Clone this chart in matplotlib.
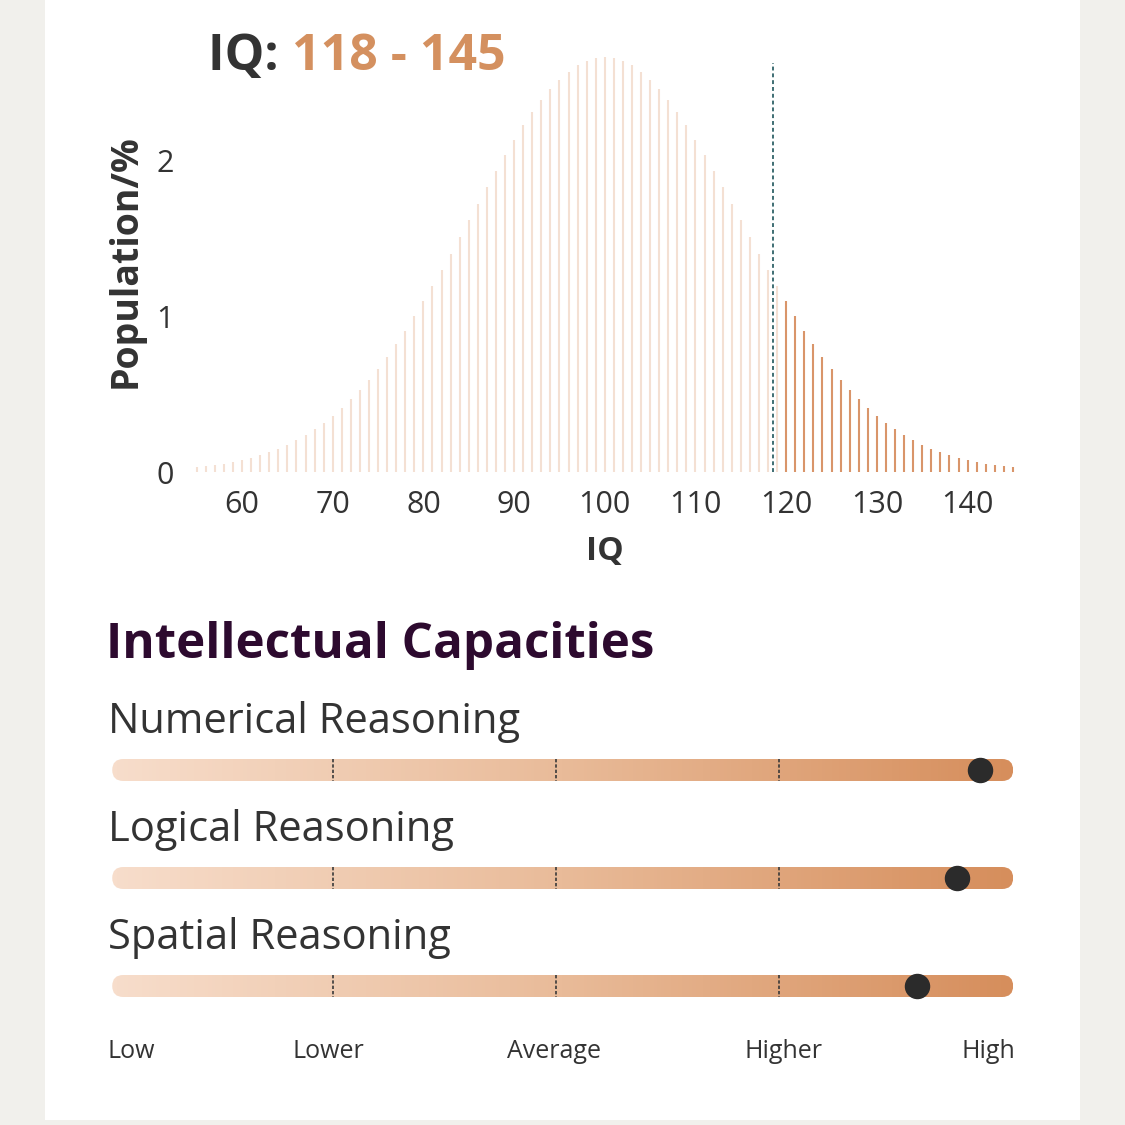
import matplotlib

matplotlib.use("Agg")
import matplotlib.pyplot as plt
import numpy as np
from matplotlib.colors import LinearSegmentedColormap
from matplotlib.patches import FancyBboxPatch, Rectangle

BG = "#F1F0EC"
CARD = "#FFFFFF"
TEXT = "#333333"
ORANGE = "#D4905F"
LIGHT_BAR = "#F4E0D3"
DARK_BAR = "#D9956A"
CUTOFF = "#3E6E73"
HEAD = "#2D0A2F"
FONT = ["Open Sans", "DejaVu Sans"]

# population share (%) for each IQ score
iq = list(range(55, 146))
population = [
    0.030, 0.036, 0.044, 0.053, 0.064, 0.076, 0.091, 0.107, 0.127, 0.149,
    0.175, 0.204, 0.236, 0.273, 0.314, 0.360, 0.410, 0.466, 0.526, 0.592,
    0.663, 0.739, 0.821, 0.907, 0.998, 1.093, 1.192, 1.295, 1.399, 1.506,
    1.613, 1.720, 1.827, 1.931, 2.032, 2.130, 2.222, 2.307, 2.385, 2.455,
    2.516, 2.567, 2.607, 2.636, 2.654, 2.660, 2.654, 2.636, 2.607, 2.567,
    2.516, 2.455, 2.385, 2.307, 2.222, 2.130, 2.032, 1.931, 1.827, 1.720,
    1.613, 1.506, 1.399, 1.295, 1.192, 1.093, 0.998, 0.907, 0.821, 0.739,
    0.663, 0.592, 0.526, 0.466, 0.410, 0.360, 0.314, 0.273, 0.236, 0.204,
    0.175, 0.149, 0.127, 0.107, 0.091, 0.076, 0.064, 0.053, 0.044, 0.036,
    0.030,
]
highlight_from = 120
cutoff_iq = 118.6
range_low, range_high = 118, 145

capacities = ["Numerical Reasoning", "Logical Reasoning", "Spatial Reasoning"]
scores = [3.90, 3.80, 3.62]
levels = ["Low", "Lower", "Average", "Higher", "High"]

W = H = 1125


def fx(px):
    return px / W


def fy(py):
    return 1 - py / H


fig = plt.figure(figsize=(11.25, 11.25), dpi=100, facecolor=BG)
fig.patches.append(Rectangle((fx(45), fy(1120)), fx(1080 - 45), 1 - fy(1120),
                             transform=fig.transFigure, facecolor=CARD,
                             edgecolor="none", zorder=-10))

# ---- distribution chart ----
ax = fig.add_axes([fx(187.6), fy(472), fx(1022 - 187.6), fy(50.8) - fy(472)])
ax.set_facecolor("none")
iq_arr = np.array(iq)
pop_arr = np.array(population)
light = iq_arr < highlight_from
ax.vlines(iq_arr[light], 0, pop_arr[light], color=LIGHT_BAR, linewidth=1.5)
ax.vlines(iq_arr[~light], 0, pop_arr[~light], color=DARK_BAR, linewidth=1.5)
ax.vlines(cutoff_iq, 0, 2.62, color=CUTOFF, linewidth=1.4, linestyles=(0, (2, 1.5)))
ax.set_xlim(54, 146)
ax.set_ylim(0, 2.7)
ax.set_xticks(range(60, 141, 10))
ax.set_yticks([0, 1, 2])
for s in ax.spines.values():
    s.set_visible(False)
ax.tick_params(length=0, labelsize=22, labelcolor=TEXT)
ax.tick_params(axis="x", pad=13)
ax.tick_params(axis="y", pad=10)
for lab in ax.get_xticklabels() + ax.get_yticklabels():
    lab.set_family(FONT)
ax.set_xlabel("IQ", fontsize=24, fontweight="bold", color=TEXT, family=FONT, labelpad=11)
ax.set_ylabel("Population/%", fontsize=27, fontweight="bold", color=TEXT, family=FONT,
              labelpad=8)

t1 = fig.text(fx(208), fy(70), "IQ: ", fontsize=36, fontweight="bold", color=TEXT,
              family=FONT, va="baseline", ha="left")
ax.annotate(f"{range_low} - {range_high}", xy=(1, 0), xycoords=t1, va="bottom", ha="left",
            fontsize=36, fontweight="bold", color=ORANGE, family=FONT,
            annotation_clip=False)

# ---- capacities ----
fig.text(fx(106), fy(658), "Intellectual Capacities", fontsize=35.5, fontweight="bold",
         color=HEAD, family=FONT, va="baseline", ha="left")

# slider axes: 0..4 scale (Low..High), 223 px per unit, wide enough for the track caps
ax2 = fig.add_axes([fx(110), fy(1083.2), fx(4.1 * 223), fy(672.8) - fy(1083.2)])
ax2.axis("off")

track_h = 22 / 108
r_x = 11 / 223
aspect = (11 / 108) / r_x
cmap = LinearSegmentedColormap.from_list("track", ["#F7DDCB", "#E9BB99", "#D68E5C"])
grad = np.linspace(0, 1, 256).reshape(1, -1)
for row, (name, score) in enumerate(zip(capacities, scores)):
    ax2.text(-0.01, row - 0.343, name, fontsize=30, color=TEXT, family=FONT,
             va="baseline", ha="left", clip_on=False)
    patch = FancyBboxPatch((0.01, row - track_h / 2), 4.04, track_h,
                           boxstyle=f"round,pad=0,rounding_size={r_x}",
                           mutation_aspect=aspect, facecolor="none", edgecolor="none")
    ax2.add_patch(patch)
    im = ax2.imshow(grad, cmap=cmap, aspect="auto", interpolation="bicubic",
                    extent=(0.01, 4.05, row + track_h / 2, row - track_h / 2), zorder=1)
    im.set_clip_path(patch)
    for tick in (1, 2, 3):
        ax2.plot([tick, tick], [row - track_h / 2, row + track_h / 2], color="#3A3A3A",
                 linewidth=1.2, linestyle=(0, (2, 1.2)), zorder=2)
    ax2.scatter([score], [row], s=300, color="#2B2B2B", zorder=3, clip_on=False)

ax2.set_xlim(0, 4.1)
ax2.set_ylim(2.9, -0.9)
level_pos = [-0.01, 0.98, 1.99, 3.02, 4.06]
level_ha = ["left", "center", "center", "center", "right"]
for lab, pos, ha in zip(levels, level_pos, level_ha):
    ax2.text(pos, 2.667, lab, fontsize=18, color=TEXT, family=FONT, ha=ha,
             va="baseline", clip_on=False)

fig.savefig("out.png", dpi=100, facecolor=BG)
